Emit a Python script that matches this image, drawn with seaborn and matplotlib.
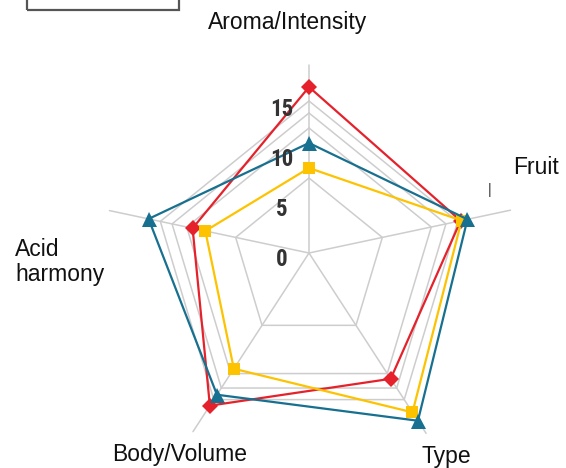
import numpy as np
import pandas as pd
import matplotlib
matplotlib.use("Agg")
import matplotlib.pyplot as plt
import matplotlib.transforms as mtransforms
from matplotlib.patches import Rectangle
from matplotlib import font_manager
import seaborn as sns

# ---------------- data ----------------
categories = ["Aroma/Intensity", "Fruit", "Type", "Body/Volume", "Acid harmony"]
series_names = ["Wine 1", "Wine 2", "Wine 3"]
red_values = [16.6, 15.5, 15.0, 18.2, 11.9]
yellow_values = [8.5, 15.6, 19.0, 13.8, 10.6]
blue_values = [11.0, 16.2, 20.0, 16.9, 16.4]
tick_values = [0, 5, 10, 15]
tick_labels = ["0", "5", "10", "15"]

# ---------------- layout / style ----------------
W, H, DPI = 566, 468, 100
spoke_angles_deg = [90, 12, -57, -123, 168]
spoke_lengths = [18.8, 20.6, 21.5, 21.3, 20.4]
spoke_factors = [1.0, 1.0, 1.15, 1.15, 1.0]
ring_levels = [7.5, 12.5, 14.0, 15.2]
colors = {"Wine 1": "#e5222b", "Wine 2": "#fdc300", "Wine 3": "#17708f"}
markers = {"Wine 1": ("D", 8.6), "Wine 2": ("s", 9.2), "Wine 3": ("^", 10.8)}
grid_color = "#cdcdcd"

sns.set_style("white")
plt.rcParams["font.family"] = ["Liberation Sans", "DejaVu Sans"]

# pick a condensed font for the radial tick labels if one is available
names = {f.name for f in font_manager.fontManager.ttflist}
cond_family = None
for cand in ["Liberation Sans Narrow", "DejaVu Sans Condensed", "Roboto Condensed",
             "Open Sans Condensed", "Noto Sans Condensed"]:
    if cand in names:
        cond_family = cand
        break

fig = plt.figure(figsize=(W / DPI, H / DPI), dpi=DPI)

def fx(px):
    return px / W

def fy(py):
    return 1 - py / H

# polar axes: center at (309, 253) px, 10 px per unit
cx, cy, rmax, ppu = 309, 253, 22.0, 10.0
rad_px = rmax * ppu
ax = fig.add_axes([fx(cx - rad_px), fy(cy + rad_px), 2 * rad_px / W, 2 * rad_px / H],
                  projection="polar")
ax.set_ylim(0, rmax)
ax.grid(False)
ax.set_xticks([])
ax.set_yticks([])
ax.spines["polar"].set_visible(False)
ax.patch.set_alpha(0)

theta = np.deg2rad(spoke_angles_deg)

# spokes
for t, L in zip(theta, spoke_lengths):
    ax.plot([t, t], [0, L], color=grid_color, lw=1.1, zorder=1)

# rings (pentagons)
for lv in ring_levels:
    rr = [lv * f for f in spoke_factors]
    ax.plot(list(theta) + [theta[0]], rr + [rr[0]], color=grid_color, lw=1.1, zorder=1)

# data series
rows = []
for name, vals in zip(series_names, [red_values, yellow_values, blue_values]):
    for i in range(len(categories) + 1):
        k = i % len(categories)
        rows.append({"series": name, "category": categories[k],
                     "theta": theta[k], "value": vals[k], "order": i})
df = pd.DataFrame(rows)

for z, name in enumerate(series_names):
    sub = df[df["series"] == name]
    m, ms = markers[name]
    sns.lineplot(data=sub, x="theta", y="value", sort=False, estimator=None,
                 color=colors[name], lw=1.6, ax=ax, zorder=3 + z, legend=False)
    s2 = sub[sub["order"] < len(categories)]
    ax.plot(s2["theta"], s2["value"], linestyle="none", marker=m, markersize=ms,
            color=colors[name], markeredgewidth=0, zorder=3 + z, clip_on=False)

ax.set_xlabel("")
ax.set_ylabel("")

# radial tick labels (left of top spoke)
off = mtransforms.offset_copy(ax.transData, fig=fig, x=-27, y=-7, units="dots")
for v, lab in zip(tick_values, tick_labels):
    if cond_family:
        kw = dict(family=[cond_family, "DejaVu Sans"], fontsize=16.5)
    else:
        kw = dict(family=["DejaVu Sans"], fontsize=14, fontstretch="condensed")
    ax.text(np.pi / 2, v, lab, transform=off, ha="center", va="center",
            fontweight="bold", color="#333333", zorder=6, **kw)

# category labels
fs = 16.5
fig.text(fx(288), fy(22), categories[0], ha="center", va="center", fontsize=fs, color="#111111")
fig.text(fx(536), fy(168), categories[1], ha="center", va="center", fontsize=fs, color="#111111")
fig.text(fx(446), fy(457), categories[2], ha="center", va="center", fontsize=fs, color="#111111")
fig.text(fx(180), fy(455), categories[3], ha="center", va="center", fontsize=fs, color="#111111")
fig.text(fx(15), fy(262), "Acid\nharmony", ha="left", va="center", fontsize=fs,
         color="#111111", linespacing=1.15)
fig.text(fx(490), fy(190), "|", ha="center", va="center", fontsize=10, color="#333333")

# partial legend box at top-left
fig.patches.append(Rectangle((fx(27), fy(10)), fx(179) - fx(27), 0.1,
                             transform=fig.transFigure, fill=False,
                             edgecolor="#555555", lw=1.6))

fig.savefig("out.png", dpi=DPI)
